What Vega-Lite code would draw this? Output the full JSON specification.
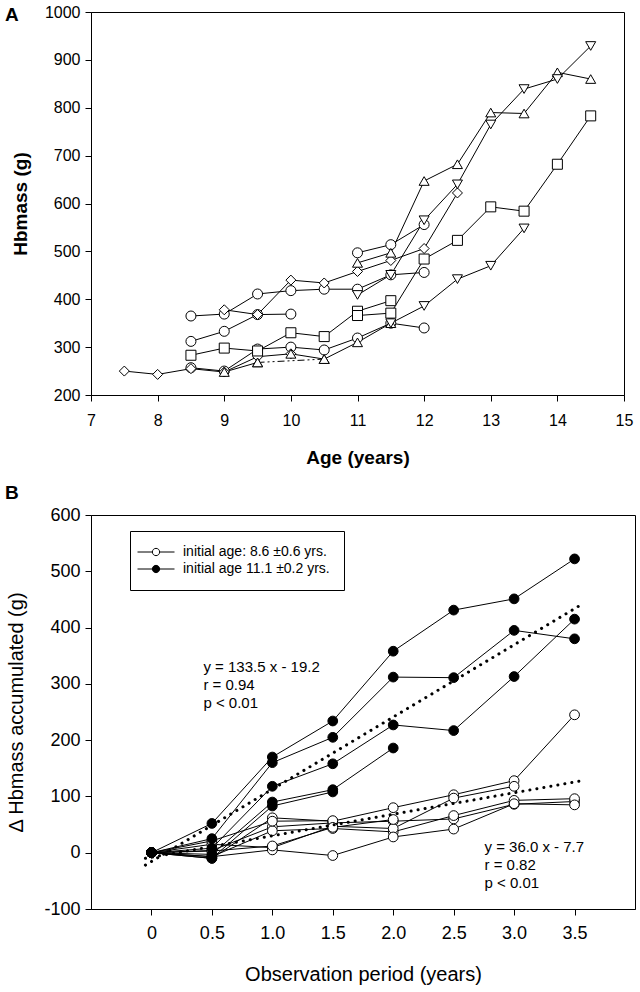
{
  "$schema": "https://vega.github.io/schema/vega-lite/v6.json",
  "background": "white",
  "padding": {"left": 4, "top": 3, "right": 4, "bottom": 2},
  "spacing": 15,
  "config": {
    "font": "Liberation Sans",
    "view": {"stroke": "black", "strokeWidth": 1},
    "axis": {"grid": false, "domainColor": "black", "domainWidth": 1, "tickColor": "black", "tickWidth": 1, "tickSize": 6, "labelColor": "black", "titleColor": "black", "labelFont": "Liberation Sans", "titleFont": "Liberation Sans", "labelFlush": false, "labelOverlap": false},
    "title": {"font": "Liberation Sans", "color": "black"}
  },
  "vconcat": [
    {
      "width": 533,
      "height": 383,
      "title": {"text": "A", "anchor": "start", "frame": "group", "orient": "top", "offset": 0, "fontSize": 19, "fontWeight": "bold", "dx": -86, "dy": 36, "baseline": "alphabetic"},
      "data": {"values": [
        {"id": "CA", "shape": "circle", "age": 8.5, "hb": 365},
        {"id": "CA", "shape": "circle", "age": 9, "hb": 369},
        {"id": "CA", "shape": "circle", "age": 9.5, "hb": 411},
        {"id": "CA", "shape": "circle", "age": 10, "hb": 418},
        {"id": "CA", "shape": "circle", "age": 10.5, "hb": 421},
        {"id": "CA", "shape": "circle", "age": 11, "hb": 421},
        {"id": "CA", "shape": "circle", "age": 11.5, "hb": 451},
        {"id": "CA", "shape": "circle", "age": 12, "hb": 456},
        {"id": "CB", "shape": "circle", "age": 8.5, "hb": 312},
        {"id": "CB", "shape": "circle", "age": 9, "hb": 333},
        {"id": "CB", "shape": "circle", "age": 9.5, "hb": 368},
        {"id": "CB", "shape": "circle", "age": 10, "hb": 369},
        {"id": "CC", "shape": "circle", "age": 8.5, "hb": 257},
        {"id": "CC", "shape": "circle", "age": 9, "hb": 250},
        {"id": "CC", "shape": "circle", "age": 9.5, "hb": 296},
        {"id": "CC", "shape": "circle", "age": 10, "hb": 300},
        {"id": "CC", "shape": "circle", "age": 10.5, "hb": 294},
        {"id": "CC", "shape": "circle", "age": 11, "hb": 319},
        {"id": "CC", "shape": "circle", "age": 11.5, "hb": 350},
        {"id": "CC", "shape": "circle", "age": 12, "hb": 340},
        {"id": "CD", "shape": "circle", "age": 11, "hb": 497},
        {"id": "CD", "shape": "circle", "age": 11.5, "hb": 514},
        {"id": "CD", "shape": "circle", "age": 12, "hb": 556},
        {"id": "DA", "shape": "diamond", "age": 7.5, "hb": 250},
        {"id": "DA", "shape": "diamond", "age": 8, "hb": 243},
        {"id": "DA", "shape": "diamond", "age": 8.5, "hb": 255},
        {"id": "DA", "shape": "diamond", "age": 9, "hb": 248},
        {"id": "DA", "shape": "diamond", "age": 9.5, "hb": 280},
        {"id": "DA", "shape": "diamond", "age": 10, "hb": 286},
        {"id": "DB", "shape": "diamond", "age": 9, "hb": 378},
        {"id": "DB", "shape": "diamond", "age": 9.5, "hb": 368},
        {"id": "DB", "shape": "diamond", "age": 10, "hb": 440},
        {"id": "DB", "shape": "diamond", "age": 10.5, "hb": 434},
        {"id": "DB", "shape": "diamond", "age": 11, "hb": 458},
        {"id": "DB", "shape": "diamond", "age": 11.5, "hb": 481},
        {"id": "DB", "shape": "diamond", "age": 12, "hb": 506},
        {"id": "DB", "shape": "diamond", "age": 12.5, "hb": 622},
        {"id": "SA", "shape": "square", "age": 8.5, "hb": 283},
        {"id": "SA", "shape": "square", "age": 9, "hb": 298},
        {"id": "SA", "shape": "square", "age": 9.5, "hb": 292},
        {"id": "SA", "shape": "square", "age": 10, "hb": 330},
        {"id": "SA", "shape": "square", "age": 10.5, "hb": 322},
        {"id": "SA", "shape": "square", "age": 11, "hb": 375},
        {"id": "SA", "shape": "square", "age": 11.5, "hb": 397},
        {"id": "SB", "shape": "square", "age": 11, "hb": 366},
        {"id": "SB", "shape": "square", "age": 11.5, "hb": 371},
        {"id": "SB", "shape": "square", "age": 12, "hb": 484},
        {"id": "SB", "shape": "square", "age": 12.5, "hb": 523},
        {"id": "SB", "shape": "square", "age": 13, "hb": 593},
        {"id": "SB", "shape": "square", "age": 13.5, "hb": 584},
        {"id": "SB", "shape": "square", "age": 14, "hb": 682},
        {"id": "SB", "shape": "square", "age": 14.5, "hb": 783},
        {"id": "TA", "shape": "triangle-up", "age": 11, "hb": 476},
        {"id": "TA", "shape": "triangle-up", "age": 11.5, "hb": 497},
        {"id": "TA", "shape": "triangle-up", "age": 12, "hb": 647},
        {"id": "TA", "shape": "triangle-up", "age": 12.5, "hb": 682},
        {"id": "TA", "shape": "triangle-up", "age": 13, "hb": 790},
        {"id": "TA", "shape": "triangle-up", "age": 13.5, "hb": 788},
        {"id": "TA", "shape": "triangle-up", "age": 14, "hb": 874},
        {"id": "TA", "shape": "triangle-up", "age": 14.5, "hb": 860},
        {"id": "TB", "shape": "triangle-up", "age": 9, "hb": 248},
        {"id": "TB", "shape": "triangle-up", "age": 9.5, "hb": 268},
        {"id": "TBd", "shape": "triangle-up", "style": "dash", "age": 9.5, "hb": 268},
        {"id": "TBd", "shape": "triangle-up", "style": "dash", "age": 10.5, "hb": 275},
        {"id": "TC", "shape": "triangle-up", "age": 10, "hb": 286},
        {"id": "TC", "shape": "triangle-up", "age": 10.5, "hb": 275},
        {"id": "TC", "shape": "triangle-up", "age": 11, "hb": 310},
        {"id": "TC", "shape": "triangle-up", "age": 11.5, "hb": 350},
        {"id": "VA", "shape": "triangle-down", "age": 11, "hb": 409},
        {"id": "VA", "shape": "triangle-down", "age": 11.5, "hb": 451},
        {"id": "VA", "shape": "triangle-down", "age": 12, "hb": 565},
        {"id": "VA", "shape": "triangle-down", "age": 12.5, "hb": 640},
        {"id": "VA", "shape": "triangle-down", "age": 13, "hb": 765},
        {"id": "VA", "shape": "triangle-down", "age": 13.5, "hb": 839},
        {"id": "VA", "shape": "triangle-down", "age": 14, "hb": 860},
        {"id": "VA", "shape": "triangle-down", "age": 14.5, "hb": 929},
        {"id": "VB", "shape": "triangle-down", "age": 11.5, "hb": 350},
        {"id": "VB", "shape": "triangle-down", "age": 12, "hb": 386},
        {"id": "VB", "shape": "triangle-down", "age": 12.5, "hb": 442},
        {"id": "VB", "shape": "triangle-down", "age": 13, "hb": 470},
        {"id": "VB", "shape": "triangle-down", "age": 13.5, "hb": 548}
      ]},
      "encoding": {
        "x": {"field": "age", "type": "quantitative", "scale": {"domain": [7, 15], "nice": false, "zero": false},
              "axis": {"values": [7, 8, 9, 10, 11, 12, 13, 14, 15], "format": "d", "title": "Age (years)", "titleFontSize": 19, "titleFontWeight": "bold", "labelFontSize": 16, "labelPadding": 11, "titlePadding": 20}},
        "y": {"field": "hb", "type": "quantitative", "scale": {"domain": [200, 1000], "nice": false, "zero": false},
              "axis": {"values": [200, 300, 400, 500, 600, 700, 800, 900, 1000], "format": "d", "title": "Hbmass (g)", "titleFontSize": 19, "titleFontWeight": "bold", "labelFontSize": 16, "labelPadding": 5, "titlePadding": 14}}
      },
      "layer": [
        {"transform": [{"filter": "datum.style !== 'dash'"}], "mark": {"type": "line", "color": "black", "strokeWidth": 1}, "encoding": {"detail": {"field": "id"}}},
        {"transform": [{"filter": "datum.style === 'dash'"}], "mark": {"type": "line", "color": "black", "strokeWidth": 1, "strokeDash": [7, 3, 2, 3, 2, 3]}, "encoding": {"detail": {"field": "id"}}},
        {"mark": {"type": "point", "filled": true, "fill": "white", "stroke": "black", "strokeWidth": 1, "opacity": 1, "fillOpacity": 1, "size": 100},
         "encoding": {"shape": {"field": "shape", "type": "nominal", "scale": {"domain": ["circle", "diamond", "square", "triangle-up", "triangle-down"], "range": ["circle", "diamond", "square", "triangle-up", "triangle-down"]}, "legend": null}}}
      ]
    },
    {
      "width": 544,
      "height": 394,
      "title": {"text": "B", "anchor": "start", "frame": "group", "orient": "top", "offset": 4, "fontSize": 19, "fontWeight": "bold", "dx": -86, "dy": 16, "baseline": "alphabetic"},
      "layer": [
        {
          "data": {"values": [
            {"id": "H1", "grp": "initial age: 8.6 ±0.6 yrs.", "t": 0, "d": 0},
            {"id": "H1", "grp": "initial age: 8.6 ±0.6 yrs.", "t": 0.5, "d": -10},
            {"id": "H1", "grp": "initial age: 8.6 ±0.6 yrs.", "t": 1, "d": 62},
            {"id": "H1", "grp": "initial age: 8.6 ±0.6 yrs.", "t": 1.5, "d": 56},
            {"id": "H1", "grp": "initial age: 8.6 ±0.6 yrs.", "t": 2, "d": 80},
            {"id": "H1", "grp": "initial age: 8.6 ±0.6 yrs.", "t": 2.5, "d": 103},
            {"id": "H1", "grp": "initial age: 8.6 ±0.6 yrs.", "t": 3, "d": 128},
            {"id": "H1", "grp": "initial age: 8.6 ±0.6 yrs.", "t": 3.5, "d": 245},
            {"id": "H2", "grp": "initial age: 8.6 ±0.6 yrs.", "t": 0, "d": 0},
            {"id": "H2", "grp": "initial age: 8.6 ±0.6 yrs.", "t": 0.5, "d": 4},
            {"id": "H2", "grp": "initial age: 8.6 ±0.6 yrs.", "t": 1, "d": 46},
            {"id": "H2", "grp": "initial age: 8.6 ±0.6 yrs.", "t": 1.5, "d": 53},
            {"id": "H2", "grp": "initial age: 8.6 ±0.6 yrs.", "t": 2, "d": 56},
            {"id": "H2", "grp": "initial age: 8.6 ±0.6 yrs.", "t": 2.5, "d": 60},
            {"id": "H2", "grp": "initial age: 8.6 ±0.6 yrs.", "t": 3, "d": 86},
            {"id": "H2", "grp": "initial age: 8.6 ±0.6 yrs.", "t": 3.5, "d": 91},
            {"id": "H3", "grp": "initial age: 8.6 ±0.6 yrs.", "t": 0, "d": 0},
            {"id": "H3", "grp": "initial age: 8.6 ±0.6 yrs.", "t": 0.5, "d": -7},
            {"id": "H3", "grp": "initial age: 8.6 ±0.6 yrs.", "t": 1, "d": 39},
            {"id": "H3", "grp": "initial age: 8.6 ±0.6 yrs.", "t": 1.5, "d": 43},
            {"id": "H3", "grp": "initial age: 8.6 ±0.6 yrs.", "t": 2, "d": 37},
            {"id": "H3", "grp": "initial age: 8.6 ±0.6 yrs.", "t": 2.5, "d": 66},
            {"id": "H3", "grp": "initial age: 8.6 ±0.6 yrs.", "t": 3, "d": 93},
            {"id": "H3", "grp": "initial age: 8.6 ±0.6 yrs.", "t": 3.5, "d": 96},
            {"id": "H4", "grp": "initial age: 8.6 ±0.6 yrs.", "t": 0, "d": 0},
            {"id": "H4", "grp": "initial age: 8.6 ±0.6 yrs.", "t": 0.5, "d": 15},
            {"id": "H4", "grp": "initial age: 8.6 ±0.6 yrs.", "t": 1, "d": 9},
            {"id": "H4", "grp": "initial age: 8.6 ±0.6 yrs.", "t": 1.5, "d": 47},
            {"id": "H4", "grp": "initial age: 8.6 ±0.6 yrs.", "t": 2, "d": 43},
            {"id": "H4", "grp": "initial age: 8.6 ±0.6 yrs.", "t": 2.5, "d": 97},
            {"id": "H4", "grp": "initial age: 8.6 ±0.6 yrs.", "t": 3, "d": 118},
            {"id": "H5", "grp": "initial age: 8.6 ±0.6 yrs.", "t": 0, "d": 0},
            {"id": "H5", "grp": "initial age: 8.6 ±0.6 yrs.", "t": 0.5, "d": 21},
            {"id": "H5", "grp": "initial age: 8.6 ±0.6 yrs.", "t": 1, "d": 56},
            {"id": "H5", "grp": "initial age: 8.6 ±0.6 yrs.", "t": 1.5, "d": 57},
            {"id": "H6", "grp": "initial age: 8.6 ±0.6 yrs.", "t": 0, "d": 0},
            {"id": "H6", "grp": "initial age: 8.6 ±0.6 yrs.", "t": 0.5, "d": -7},
            {"id": "H6", "grp": "initial age: 8.6 ±0.6 yrs.", "t": 1, "d": 5},
            {"id": "H6", "grp": "initial age: 8.6 ±0.6 yrs.", "t": 1.5, "d": -5},
            {"id": "H6", "grp": "initial age: 8.6 ±0.6 yrs.", "t": 2, "d": 28},
            {"id": "H6", "grp": "initial age: 8.6 ±0.6 yrs.", "t": 2.5, "d": 42},
            {"id": "H6", "grp": "initial age: 8.6 ±0.6 yrs.", "t": 3, "d": 87},
            {"id": "H6", "grp": "initial age: 8.6 ±0.6 yrs.", "t": 3.5, "d": 85},
            {"id": "H7", "grp": "initial age: 8.6 ±0.6 yrs.", "t": 0, "d": 0},
            {"id": "H7", "grp": "initial age: 8.6 ±0.6 yrs.", "t": 0.5, "d": 3},
            {"id": "H7", "grp": "initial age: 8.6 ±0.6 yrs.", "t": 1, "d": 12},
            {"id": "H7", "grp": "initial age: 8.6 ±0.6 yrs.", "t": 1.5, "d": 45},
            {"id": "H7", "grp": "initial age: 8.6 ±0.6 yrs.", "t": 2, "d": 59},
            {"id": "F1", "grp": "initial age 11.1 ±0.2 yrs.", "t": 0, "d": 0},
            {"id": "F1", "grp": "initial age 11.1 ±0.2 yrs.", "t": 0.5, "d": 52},
            {"id": "F1", "grp": "initial age 11.1 ±0.2 yrs.", "t": 1, "d": 170},
            {"id": "F1", "grp": "initial age 11.1 ±0.2 yrs.", "t": 1.5, "d": 234},
            {"id": "F1", "grp": "initial age 11.1 ±0.2 yrs.", "t": 2, "d": 358},
            {"id": "F1", "grp": "initial age 11.1 ±0.2 yrs.", "t": 2.5, "d": 431},
            {"id": "F1", "grp": "initial age 11.1 ±0.2 yrs.", "t": 3, "d": 451},
            {"id": "F1", "grp": "initial age 11.1 ±0.2 yrs.", "t": 3.5, "d": 522},
            {"id": "F2", "grp": "initial age 11.1 ±0.2 yrs.", "t": 0, "d": 0},
            {"id": "F2", "grp": "initial age 11.1 ±0.2 yrs.", "t": 0.5, "d": 25},
            {"id": "F2", "grp": "initial age 11.1 ±0.2 yrs.", "t": 1, "d": 160},
            {"id": "F2", "grp": "initial age 11.1 ±0.2 yrs.", "t": 1.5, "d": 205},
            {"id": "F2", "grp": "initial age 11.1 ±0.2 yrs.", "t": 2, "d": 312},
            {"id": "F2", "grp": "initial age 11.1 ±0.2 yrs.", "t": 2.5, "d": 311},
            {"id": "F2", "grp": "initial age 11.1 ±0.2 yrs.", "t": 3, "d": 395},
            {"id": "F2", "grp": "initial age 11.1 ±0.2 yrs.", "t": 3.5, "d": 380},
            {"id": "F3", "grp": "initial age 11.1 ±0.2 yrs.", "t": 0, "d": 0},
            {"id": "F3", "grp": "initial age 11.1 ±0.2 yrs.", "t": 0.5, "d": 8},
            {"id": "F3", "grp": "initial age 11.1 ±0.2 yrs.", "t": 1, "d": 118},
            {"id": "F3", "grp": "initial age 11.1 ±0.2 yrs.", "t": 1.5, "d": 158},
            {"id": "F3", "grp": "initial age 11.1 ±0.2 yrs.", "t": 2, "d": 227},
            {"id": "F3", "grp": "initial age 11.1 ±0.2 yrs.", "t": 2.5, "d": 217},
            {"id": "F3", "grp": "initial age 11.1 ±0.2 yrs.", "t": 3, "d": 313},
            {"id": "F3", "grp": "initial age 11.1 ±0.2 yrs.", "t": 3.5, "d": 415},
            {"id": "F4", "grp": "initial age 11.1 ±0.2 yrs.", "t": 0, "d": 0},
            {"id": "F4", "grp": "initial age 11.1 ±0.2 yrs.", "t": 0.5, "d": -3},
            {"id": "F4", "grp": "initial age 11.1 ±0.2 yrs.", "t": 1, "d": 90},
            {"id": "F4", "grp": "initial age 11.1 ±0.2 yrs.", "t": 1.5, "d": 112},
            {"id": "F4", "grp": "initial age 11.1 ±0.2 yrs.", "t": 2, "d": 186},
            {"id": "F5", "grp": "initial age 11.1 ±0.2 yrs.", "t": 0, "d": 0},
            {"id": "F5", "grp": "initial age 11.1 ±0.2 yrs.", "t": 0.5, "d": -10},
            {"id": "F5", "grp": "initial age 11.1 ±0.2 yrs.", "t": 1, "d": 83},
            {"id": "F5", "grp": "initial age 11.1 ±0.2 yrs.", "t": 1.5, "d": 108}
          ]},
          "encoding": {
            "x": {"field": "t", "type": "quantitative", "scale": {"domain": [-0.5, 4.0], "nice": false, "zero": false},
                  "axis": {"values": [0, 0.5, 1, 1.5, 2, 2.5, 3, 3.5], "labelExpr": "datum.value === 0 ? '0' : format(datum.value, '.1f')", "title": "Observation period (years)", "titleFontSize": 20, "titleFontWeight": "normal", "labelFontSize": 18, "labelPadding": 9, "titlePadding": 22}},
            "y": {"field": "d", "type": "quantitative", "scale": {"domain": [-100, 600], "nice": false, "zero": false},
                  "axis": {"values": [-100, 0, 100, 200, 300, 400, 500, 600], "labelExpr": "datum.value < 0 ? '-' + abs(datum.value) : '' + datum.value", "title": "Δ Hbmass accumulated (g)", "titleFontSize": 20, "titleFontWeight": "normal", "labelFontSize": 18, "labelPadding": 5, "titlePadding": 17}}
          },
          "layer": [
            {"mark": {"type": "line", "color": "black", "strokeWidth": 1}, "encoding": {"detail": {"field": "id"}}},
            {"mark": {"type": "point", "shape": "circle", "filled": true, "stroke": "black", "strokeWidth": 1, "opacity": 1, "fillOpacity": 1, "size": 95},
             "encoding": {"fill": {"field": "grp", "type": "nominal",
               "scale": {"domain": ["initial age: 8.6 ±0.6 yrs.", "initial age 11.1 ±0.2 yrs."], "range": ["white", "black"]},
               "legend": {"title": null, "orient": "none", "legendX": 39, "legendY": 519, "strokeColor": "black", "fillColor": "white", "padding": 14, "labelFontSize": 14, "labelFont": "Liberation Sans", "labelColor": "black", "rowPadding": 3, "symbolType": "M-3.7,0L-0.73,0M0.73,0L3.7,0M-0.73,0A0.73,0.73,0,1,1,0.73,0A0.73,0.73,0,1,1,-0.73,0Z", "symbolSize": 100, "symbolStrokeColor": "black", "symbolStrokeWidth": 1, "symbolOffset": 5, "labelOffset": 20, "labelLimit": 300}}}}
          ]
        },
        {
          "data": {"values": [
            {"id": "old", "t": -0.05, "d": -22},
            {"id": "old", "t": 3.55, "d": 440},
            {"id": "young", "t": -0.05, "d": -10},
            {"id": "young", "t": 3.56, "d": 128}
          ]},
          "mark": {"type": "line", "color": "black", "strokeWidth": 3, "strokeDash": [0.1, 7], "strokeCap": "round"},
          "encoding": {"x": {"field": "t", "type": "quantitative"}, "y": {"field": "d", "type": "quantitative"}, "detail": {"field": "id"}}
        },
        {
          "data": {"values": [{"tx": "y = 133.5 x - 19.2\nr = 0.94\np < 0.01"}]},
          "mark": {"type": "text", "align": "left", "baseline": "top", "fontSize": 15, "lineHeight": 18, "lineBreak": "\n", "font": "Liberation Sans", "color": "black"},
          "encoding": {"text": {"field": "tx", "type": "nominal"}, "x": {"datum": 0.43, "type": "quantitative"}, "y": {"datum": 343, "type": "quantitative"}}
        },
        {
          "data": {"values": [{"tx": "y = 36.0 x - 7.7\nr = 0.82\np < 0.01"}]},
          "mark": {"type": "text", "align": "left", "baseline": "top", "fontSize": 15, "lineHeight": 18, "lineBreak": "\n", "font": "Liberation Sans", "color": "black"},
          "encoding": {"text": {"field": "tx", "type": "nominal"}, "x": {"datum": 2.755, "type": "quantitative"}, "y": {"datum": 22, "type": "quantitative"}}
        }
      ]
    }
  ]
}
